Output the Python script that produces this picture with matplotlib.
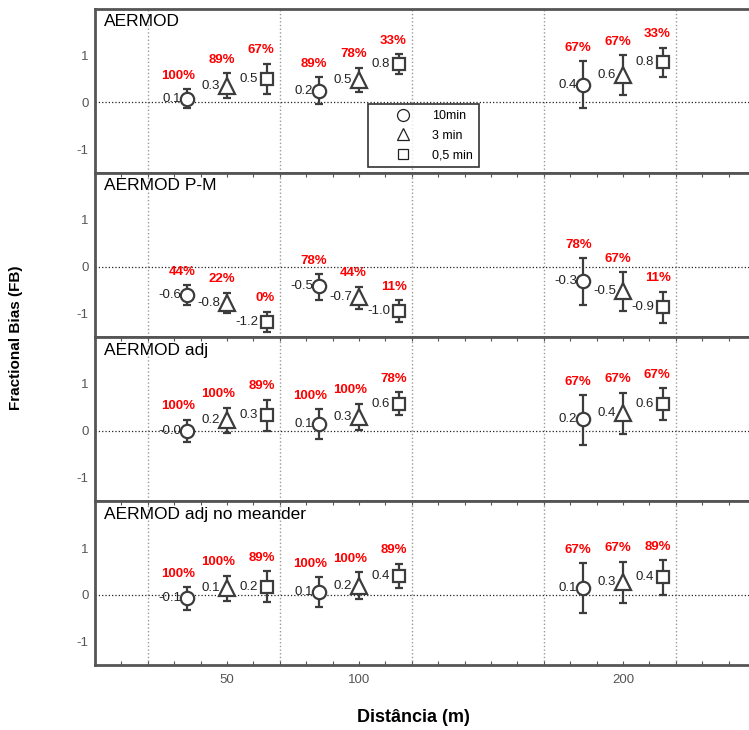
import matplotlib
matplotlib.use('Agg')
import matplotlib.pyplot as plt
from matplotlib.lines import Line2D

plt.rcParams['font.family'] = ['Liberation Sans', 'DejaVu Sans']

# Distances (m) and averaging times
distances = [50, 100, 200]
series_names = ['10min', '3 min', '0,5 min']
panel_titles = ['AERMOD', 'AERMOD P-M', 'AERMOD adj', 'AERMOD adj no meander']

# Mean FB, lower / upper error bar ends -- rows: 10min, 3 min, 0,5 min ; cols: 50, 100, 200 m
fb_aermod = [[0.08, 0.25, 0.37], [0.35, 0.47, 0.58], [0.50, 0.81, 0.85]]
lo_aermod = [[-0.13, -0.04, -0.13], [0.085, 0.21, 0.16], [0.18, 0.60, 0.54]]
hi_aermod = [[0.28, 0.54, 0.88], [0.62, 0.74, 1.00], [0.82, 1.02, 1.16]]
lbl_aermod = [['0.1', '0.2', '0.4'], ['0.3', '0.5', '0.6'], ['0.5', '0.8', '0.8']]
pct_aermod = [['100%', '89%', '67%'], ['89%', '78%', '67%'], ['67%', '33%', '33%']]

fb_pm = [[-0.60, -0.42, -0.30], [-0.77, -0.66, -0.53], [-1.18, -0.95, -0.87]]
lo_pm = [[-0.81, -0.72, -0.81], [-1.00, -0.90, -0.94], [-1.40, -1.18, -1.21]]
hi_pm = [[-0.40, -0.16, 0.18], [-0.56, -0.43, -0.12], [-0.96, -0.72, -0.54]]
lbl_pm = [['-0.6', '-0.5', '-0.3'], ['-0.8', '-0.7', '-0.5'], ['-1.2', '-1.0', '-0.9']]
pct_pm = [['44%', '78%', '78%'], ['22%', '44%', '67%'], ['0%', '11%', '11%']]

fb_adj = [[0.00, 0.15, 0.24], [0.22, 0.30, 0.38], [0.34, 0.57, 0.57]]
lo_adj = [[-0.23, -0.18, -0.30], [-0.05, 0.02, -0.07], [0.00, 0.33, 0.23]]
hi_adj = [[0.23, 0.46, 0.76], [0.49, 0.58, 0.81], [0.66, 0.82, 0.91]]
lbl_adj = [['-0.0', '0.1', '0.2'], ['0.2', '0.3', '0.4'], ['0.3', '0.6', '0.6']]
pct_adj = [['100%', '100%', '67%'], ['100%', '100%', '67%'], ['89%', '78%', '67%']]

fb_nm = [[-0.07, 0.07, 0.14], [0.15, 0.20, 0.27], [0.17, 0.41, 0.38]]
lo_nm = [[-0.32, -0.26, -0.39], [-0.13, -0.09, -0.18], [-0.16, 0.14, 0.00]]
hi_nm = [[0.16, 0.38, 0.68], [0.41, 0.48, 0.71], [0.50, 0.66, 0.74]]
lbl_nm = [['-0.1', '0.1', '0.1'], ['0.1', '0.2', '0.3'], ['0.2', '0.4', '0.4']]
pct_nm = [['100%', '100%', '67%'], ['100%', '100%', '67%'], ['89%', '89%', '89%']]

panels = [
    (fb_aermod, lo_aermod, hi_aermod, lbl_aermod, pct_aermod),
    (fb_pm, lo_pm, hi_pm, lbl_pm, pct_pm),
    (fb_adj, lo_adj, hi_adj, lbl_adj, pct_adj),
    (fb_nm, lo_nm, hi_nm, lbl_nm, pct_nm),
]

# marker style per series
markers = ['o', '^', 's']
msizes = [9.6, 12.0, 8.6]
leg_sizes = [8.6, 9.0, 7.4]
shift = [-15, 0, 15]
lbl_dx = [-4.6, -5.0, -6.2]
dark = '#3c3c3c'

W, H = 749, 730
fig = plt.figure(figsize=(W / 100, H / 100), dpi=100)

left_px, top_px, panel_h = 95, 8.5, 164.2
for i, (fb, lo, hi, lbl, pct) in enumerate(panels):
    y0 = H - (top_px + (i + 1) * panel_h)
    ax = fig.add_axes([left_px / W, y0 / H, 1 - left_px / W, panel_h / H])
    ax.set_xlim(0, 247.7)
    ax.set_ylim(-1.5, 2.0)

    for gx in [20, 70, 120, 170, 220]:
        ax.axvline(gx, color='#999999', ls=':', lw=1.0, zorder=0)
    ax.axhline(0, color='#222222', ls=':', lw=0.9, zorder=1)

    for s in range(3):
        for d in range(3):
            x = distances[d] + shift[s]
            m = fb[s][d]
            ax.errorbar([x], [m], yerr=[[m - lo[s][d]], [hi[s][d] - m]],
                        fmt=markers[s], ms=msizes[s], mfc='white', mec=dark,
                        mew=1.6, ecolor=dark, elinewidth=1.6, capsize=3.2,
                        capthick=1.6, zorder=3)
            ax.annotate(lbl[s][d], (x, m), xytext=(lbl_dx[s], 0),
                        textcoords='offset points', ha='right', va='center',
                        fontsize=9.5, color='#222222', zorder=4)
            ax.annotate(pct[s][d], (x, hi[s][d]), xytext=(5.8, 9.7),
                        textcoords='offset points', ha='right', va='center',
                        fontsize=9.5, color='red', fontweight='bold', zorder=4)

    ax.text(0.014, 0.965, panel_titles[i], transform=ax.transAxes,
            ha='left', va='top', fontsize=12.5, color='black')

    ax.set_yticks([-1, 0, 1])
    ax.set_yticklabels(['-1', '0', '1'])
    ax.tick_params(axis='y', length=0, pad=4.5, labelsize=9.5, labelcolor='#555555')
    ax.set_xticks(distances)
    ax.set_xticks(range(10, 250, 10), minor=True)
    ax.tick_params(axis='x', which='both', direction='in', top=(i > 0),
                   bottom=(i == 3), length=3, width=0.8, color='#555555')
    if i == 3:
        ax.set_xticklabels([str(d) for d in distances])
        ax.tick_params(axis='x', pad=6, labelsize=9.5, labelcolor='#555555')
    else:
        ax.set_xticklabels([])

    for side in ['left', 'top', 'bottom']:
        ax.spines[side].set_color('#555555')
        ax.spines[side].set_linewidth(2.0)
    ax.spines['right'].set_visible(False)

    if i == 0:
        handles = [Line2D([], [], ls='none', marker=mk, ms=sz, mfc='white',
                          mec='#222222', mew=0.9) for mk, sz in zip(markers, leg_sizes)]
        leg = ax.legend(handles, series_names, loc='upper left',
                        bbox_to_anchor=(0.4174, 0.4184), borderaxespad=0,
                        fontsize=9, frameon=True, fancybox=False, borderpad=0.5,
                        handletextpad=0.0, labelspacing=0.6, handlelength=4.6)
        leg.get_frame().set_edgecolor('black')
        leg.get_frame().set_linewidth(1.2)
        leg.set_zorder(5)

fig.text(16 / W, 1 - 338 / H, 'Fractional Bias (FB)', rotation=90,
         ha='center', va='center', fontsize=11, fontweight='bold')
fig.text(413 / W, 1 - 718 / H, 'Distância (m)', ha='center', va='center',
         fontsize=13, fontweight='bold')

fig.savefig('out.png', dpi=100)
